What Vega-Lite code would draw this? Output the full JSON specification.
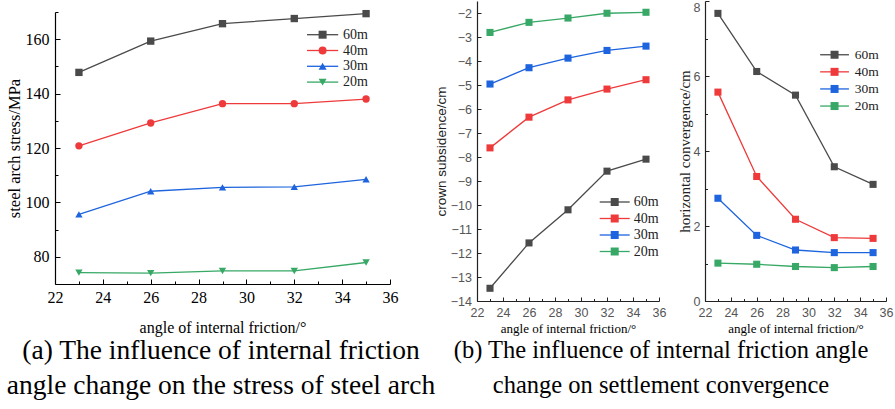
{
  "$schema": "https://vega.github.io/schema/vega-lite/v6.json",
  "background": "white",
  "padding": {"left": 6, "top": 0, "right": 2, "bottom": 0},
  "bounds": "flush",
  "spacing": 46,
  "resolve": {
    "scale": {"stroke": "independent", "fill": "independent", "shape": "independent"},
    "legend": {"stroke": "independent", "fill": "independent", "shape": "independent"}
  },
  "config": {
    "view": {"stroke": null},
    "axis": {"grid": false, "labelFlush": false, "labelOverlap": false, "domainWidth": 1.2, "tickWidth": 1}
  },
  "datasets": {
    "a": [
      {"angle": 23, "series": "60m", "value": 147.8},
      {"angle": 26, "series": "60m", "value": 159.3},
      {"angle": 29, "series": "60m", "value": 165.7},
      {"angle": 32, "series": "60m", "value": 167.6},
      {"angle": 35, "series": "60m", "value": 169.4},
      {"angle": 23, "series": "40m", "value": 120.8},
      {"angle": 26, "series": "40m", "value": 129.2},
      {"angle": 29, "series": "40m", "value": 136.3},
      {"angle": 32, "series": "40m", "value": 136.3},
      {"angle": 35, "series": "40m", "value": 138.0},
      {"angle": 23, "series": "30m", "value": 95.6},
      {"angle": 26, "series": "30m", "value": 104.1},
      {"angle": 29, "series": "30m", "value": 105.5},
      {"angle": 32, "series": "30m", "value": 105.7},
      {"angle": 35, "series": "30m", "value": 108.5},
      {"angle": 23, "series": "20m", "value": 74.2},
      {"angle": 26, "series": "20m", "value": 74.0},
      {"angle": 29, "series": "20m", "value": 74.8},
      {"angle": 32, "series": "20m", "value": 74.8},
      {"angle": 35, "series": "20m", "value": 77.9}
    ],
    "b": [
      {"angle": 23, "series": "60m", "value": -13.47},
      {"angle": 26, "series": "60m", "value": -11.58},
      {"angle": 29, "series": "60m", "value": -10.2},
      {"angle": 32, "series": "60m", "value": -8.59},
      {"angle": 35, "series": "60m", "value": -8.09},
      {"angle": 23, "series": "40m", "value": -7.62},
      {"angle": 26, "series": "40m", "value": -6.34},
      {"angle": 29, "series": "40m", "value": -5.62},
      {"angle": 32, "series": "40m", "value": -5.17},
      {"angle": 35, "series": "40m", "value": -4.78},
      {"angle": 23, "series": "30m", "value": -4.96},
      {"angle": 26, "series": "30m", "value": -4.28},
      {"angle": 29, "series": "30m", "value": -3.88},
      {"angle": 32, "series": "30m", "value": -3.56},
      {"angle": 35, "series": "30m", "value": -3.38},
      {"angle": 23, "series": "20m", "value": -2.81},
      {"angle": 26, "series": "20m", "value": -2.39},
      {"angle": 29, "series": "20m", "value": -2.21},
      {"angle": 32, "series": "20m", "value": -2.01},
      {"angle": 35, "series": "20m", "value": -1.97}
    ],
    "c": [
      {"angle": 23, "series": "60m", "value": 7.67},
      {"angle": 26, "series": "60m", "value": 6.12},
      {"angle": 29, "series": "60m", "value": 5.49},
      {"angle": 32, "series": "60m", "value": 3.58},
      {"angle": 35, "series": "60m", "value": 3.11},
      {"angle": 23, "series": "40m", "value": 5.57},
      {"angle": 26, "series": "40m", "value": 3.32},
      {"angle": 29, "series": "40m", "value": 2.18},
      {"angle": 32, "series": "40m", "value": 1.69},
      {"angle": 35, "series": "40m", "value": 1.67},
      {"angle": 23, "series": "30m", "value": 2.74},
      {"angle": 26, "series": "30m", "value": 1.75},
      {"angle": 29, "series": "30m", "value": 1.36},
      {"angle": 32, "series": "30m", "value": 1.29},
      {"angle": 35, "series": "30m", "value": 1.29},
      {"angle": 23, "series": "20m", "value": 1.01},
      {"angle": 26, "series": "20m", "value": 0.98},
      {"angle": 29, "series": "20m", "value": 0.92},
      {"angle": 32, "series": "20m", "value": 0.89},
      {"angle": 35, "series": "20m", "value": 0.92}
    ]
  },
  "hconcat": [
    {
      "width": 376,
      "height": 283,
      "data": {"name": "a"},
      "title": {
        "text": ["(a) The influence of internal friction", "angle change on the stress of steel arch"],
        "orient": "bottom", "anchor": "middle", "frame": "group", "dx": -22, "offset": 2,
        "font": "Liberation Serif", "fontSize": 27.5, "fontWeight": "normal", "color": "#000", "lineHeight": 35
      },
      "encoding": {
        "x": {
          "field": "angle", "type": "quantitative",
          "scale": {"domain": [22, 36], "range": [0, 335], "nice": false, "zero": false},
          "axis": {
            "values": [22, 23, 24, 25, 26, 27, 28, 29, 30, 31, 32, 33, 34, 35, 36],
            "format": "d",
            "labelExpr": "datum.value % 2 === 0 ? datum.label : ''",
            "tickSize": {"condition": {"test": "datum.value % 2 === 0", "value": -5}, "value": -3},
            "labelPadding": 10, "labelFont": "Liberation Serif", "labelFontSize": 16, "labelColor": "#000",
            "domainColor": "#000", "tickColor": "#000",
            "title": "angle of internal friction/°", "titleFont": "Liberation Serif", "titleFontSize": 16,
            "titleFontWeight": "normal", "titleColor": "#000", "titlePadding": 12
          }
        },
        "y": {
          "field": "value", "type": "quantitative",
          "scale": {"domain": [70, 170], "range": [283, 11], "nice": false, "zero": false},
          "axis": {
            "values": [80, 90, 100, 110, 120, 130, 140, 150, 160, 170],
            "format": "d",
            "labelExpr": "datum.value % 20 === 0 ? datum.label : ''",
            "tickSize": {"condition": {"test": "datum.value % 20 === 0", "value": -5}, "value": -3},
            "labelPadding": 11, "labelFont": "Liberation Serif", "labelFontSize": 16, "labelColor": "#000",
            "domainColor": "#000", "tickColor": "#000",
            "title": "steel arch stress/MPa", "titleFont": "Liberation Serif", "titleFontSize": 16.5,
            "titleFontWeight": "normal", "titleColor": "#000", "titlePadding": 3
          }
        }
      },
      "layer": [
        {
          "mark": {"type": "line", "strokeWidth": 1.3},
          "encoding": {
            "stroke": {
              "field": "series", "type": "nominal",
              "scale": {"domain": ["60m", "40m", "30m", "20m"], "range": ["#4a4a4a", "#ee3a3a", "#1d64de", "#37a865"]},
              "legend": {
                "orient": "none", "legendX": 260.6, "legendY": 26.7, "title": null,
                "symbolType": "M-3.9,0H3.9", "symbolSize": 64, "symbolStrokeWidth": 1.3,
                "labelFont": "Liberation Serif", "labelFontSize": 14, "labelColor": "#222",
                "labelOffset": 13.4, "rowPadding": 1.8, "padding": 0
              }
            }
          }
        },
        {
          "mark": {"type": "point", "filled": true, "opacity": 1, "size": 54},
          "encoding": {
            "fill": {
              "field": "series", "type": "nominal", "sort": "descending",
              "scale": {"range": ["#4a4a4a", "#ee3a3a", "#1d64de", "#37a865"]},
              "legend": {
                "orient": "none", "legendX": 260.6, "legendY": 26.7, "title": null,
                "symbolSize": 64, "symbolStrokeWidth": 0,
                "labelFont": "Liberation Serif", "labelFontSize": 14, "labelOpacity": 0,
                "labelOffset": 13.4, "rowPadding": 1.8, "padding": 0
              }
            },
            "shape": {
              "field": "series", "type": "nominal", "sort": "descending",
              "scale": {"range": ["square", "circle", "triangle-up", "triangle-down"]},
              "legend": {
                "orient": "none", "legendX": 260.6, "legendY": 26.7, "title": null,
                "symbolSize": 64, "symbolStrokeWidth": 0,
                "labelFont": "Liberation Serif", "labelFontSize": 14, "labelOpacity": 0,
                "labelOffset": 13.4, "rowPadding": 1.8, "padding": 0
              }
            }
          }
        }
      ]
    },
    {
      "width": 182,
      "height": 300,
      "data": {"name": "b"},
      "title": {
        "text": ["(b) The influence of internal friction angle", "change on settlement convergence"],
        "orient": "bottom", "anchor": "middle", "frame": "group", "dx": 93, "offset": 3,
        "font": "Liberation Serif", "fontSize": 24.5, "fontWeight": "normal", "color": "#000", "lineHeight": 35
      },
      "encoding": {
        "x": {
          "field": "angle", "type": "quantitative",
          "scale": {"domain": [22, 36], "nice": false, "zero": false},
          "axis": {
            "values": [22, 23, 24, 25, 26, 27, 28, 29, 30, 31, 32, 33, 34, 35, 36],
            "format": "d",
            "labelExpr": "datum.value % 2 === 0 ? datum.label : ''",
            "tickSize": {"condition": {"test": "datum.value % 2 === 0", "value": -4}, "value": -2.5},
            "labelPadding": 9.6, "labelFont": "Liberation Sans", "labelFontSize": 12.5, "labelColor": "#555",
            "domainColor": "#222", "tickColor": "#222",
            "title": "angle of internal friction/°", "titleFont": "Liberation Serif", "titleFontSize": 13,
            "titleFontWeight": "normal", "titleColor": "#000", "titlePadding": 2
          }
        },
        "y": {
          "field": "value", "type": "quantitative",
          "scale": {"domain": [-14, -1.5], "nice": false, "zero": false},
          "axis": {
            "values": [-14, -13.5, -13, -12.5, -12, -11.5, -11, -10.5, -10, -9.5, -9, -8.5, -8, -7.5, -7, -6.5, -6, -5.5, -5, -4.5, -4, -3.5, -3, -2.5, -2, -1.5],
            "format": "d",
            "labelExpr": "datum.value % 1 === 0 ? datum.label : ''",
            "tickSize": {"condition": {"test": "datum.value % 1 === 0", "value": -4}, "value": -2.5},
            "labelPadding": 9.6, "labelFont": "Liberation Sans", "labelFontSize": 12.5, "labelColor": "#555",
            "domainColor": "#222", "tickColor": "#222",
            "title": "crown subsidence/cm", "titleFont": "Liberation Sans", "titleFontSize": 13.5,
            "titleFontWeight": "normal", "titleColor": "#222", "titlePadding": 2
          }
        }
      },
      "layer": [
        {
          "mark": {"type": "line", "strokeWidth": 1.3},
          "encoding": {
            "stroke": {
              "field": "series", "type": "nominal",
              "scale": {"domain": ["60m", "40m", "30m", "20m"], "range": ["#4a4a4a", "#ee3a3a", "#1d64de", "#37a865"]},
              "legend": {
                "orient": "none", "legendX": 130.7, "legendY": 194, "title": null,
                "symbolType": "M-3.75,0H3.75", "symbolSize": 64, "symbolStrokeWidth": 1.3,
                "labelFont": "Liberation Serif", "labelFontSize": 14, "labelColor": "#222",
                "labelOffset": 12, "rowPadding": 2.5, "padding": 0
              }
            }
          }
        },
        {
          "mark": {"type": "point", "filled": true, "opacity": 1, "size": 50, "shape": "square"},
          "encoding": {
            "fill": {
              "field": "series", "type": "nominal", "sort": "descending",
              "scale": {"range": ["#4a4a4a", "#ee3a3a", "#1d64de", "#37a865"]},
              "legend": {
                "orient": "none", "legendX": 130.7, "legendY": 194, "title": null,
                "symbolSize": 64, "symbolStrokeWidth": 0, "symbolType": "square",
                "labelFont": "Liberation Serif", "labelFontSize": 14, "labelOpacity": 0,
                "labelOffset": 12, "rowPadding": 2.5, "padding": 0
              }
            }
          }
        }
      ]
    },
    {
      "width": 181,
      "height": 300,
      "data": {"name": "c"},
      "encoding": {
        "x": {
          "field": "angle", "type": "quantitative",
          "scale": {"domain": [22, 36], "nice": false, "zero": false},
          "axis": {
            "values": [22, 23, 24, 25, 26, 27, 28, 29, 30, 31, 32, 33, 34, 35, 36],
            "format": "d",
            "labelExpr": "datum.value % 2 === 0 ? datum.label : ''",
            "tickSize": {"condition": {"test": "datum.value % 2 === 0", "value": -4}, "value": -2.5},
            "labelPadding": 9.6, "labelFont": "Liberation Sans", "labelFontSize": 12.5, "labelColor": "#555",
            "domainColor": "#222", "tickColor": "#222",
            "title": "angle of internal friction/°", "titleFont": "Liberation Serif", "titleFontSize": 13,
            "titleFontWeight": "normal", "titleColor": "#000", "titlePadding": 2
          }
        },
        "y": {
          "field": "value", "type": "quantitative",
          "scale": {"domain": [0, 8], "nice": false, "zero": false},
          "axis": {
            "values": [0, 1, 2, 3, 4, 5, 6, 7, 8],
            "format": "d",
            "labelExpr": "datum.value % 2 === 0 ? datum.label : ''",
            "labelBaseline": {"condition": {"test": "datum.value === 8", "value": "top"}, "value": "middle"},
            "tickSize": {"condition": {"test": "datum.value % 2 === 0", "value": -4}, "value": -2.5},
            "labelPadding": 9, "labelFont": "Liberation Sans", "labelFontSize": 12.5, "labelColor": "#555",
            "domainColor": "#222", "tickColor": "#222",
            "title": "horizontal convergence/cm", "titleFont": "Liberation Serif", "titleFontSize": 15,
            "titleFontWeight": "normal", "titleColor": "#222", "titlePadding": 1
          }
        }
      },
      "layer": [
        {
          "mark": {"type": "line", "strokeWidth": 1.3},
          "encoding": {
            "stroke": {
              "field": "series", "type": "nominal",
              "scale": {"domain": ["60m", "40m", "30m", "20m"], "range": ["#4a4a4a", "#ee3a3a", "#1d64de", "#37a865"]},
              "legend": {
                "orient": "none", "legendX": 122.8, "legendY": 47, "title": null,
                "symbolType": "M-3.6,0H3.6", "symbolSize": 64, "symbolStrokeWidth": 1.3,
                "labelFont": "Liberation Serif", "labelFontSize": 13.5, "labelColor": "#222",
                "labelOffset": 13.5, "rowPadding": 2.1, "padding": 0
              }
            }
          }
        },
        {
          "mark": {"type": "point", "filled": true, "opacity": 1, "size": 50, "shape": "square"},
          "encoding": {
            "fill": {
              "field": "series", "type": "nominal", "sort": "descending",
              "scale": {"range": ["#4a4a4a", "#ee3a3a", "#1d64de", "#37a865"]},
              "legend": {
                "orient": "none", "legendX": 122.8, "legendY": 47, "title": null,
                "symbolSize": 64, "symbolStrokeWidth": 0, "symbolType": "square",
                "labelFont": "Liberation Serif", "labelFontSize": 13.5, "labelOpacity": 0,
                "labelOffset": 13.5, "rowPadding": 2.1, "padding": 0
              }
            }
          }
        }
      ]
    }
  ]
}
